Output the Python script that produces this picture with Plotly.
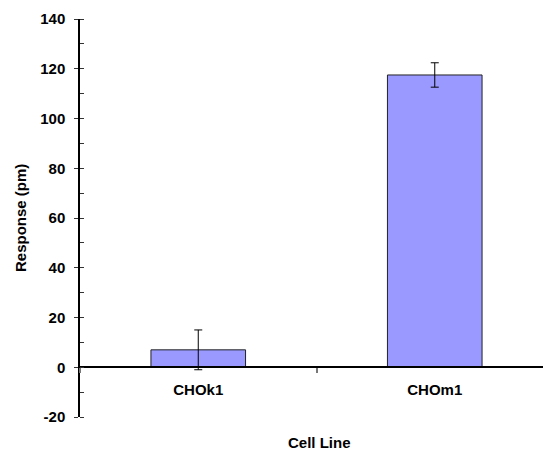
import plotly.graph_objects as go

# Cell line response data
cell_lines = ["CHOk1", "CHOm1"]
response_pm = [7.0, 117.5]
response_err = [8.0, 4.9]

y_ticks = [-20, 0, 20, 40, 60, 80, 100, 120, 140]
y_tick_text = ["-20", "0", "20", "40", "60", "80", "100", "120", "140"]

FONT = dict(family="Liberation Sans, Arial, sans-serif", size=15, color="black", weight="bold")

fig = go.Figure()
fig.add_trace(go.Bar(
    x=cell_lines,
    y=response_pm,
    width=0.4,
    marker=dict(color="#9999FF", line=dict(color="#222222", width=1)),
    error_y=dict(type="data", array=response_err, visible=True,
                 color="black", thickness=1, width=4),
    showlegend=False,
))

# Inside half of the crossing major ticks on the value axis
fig.add_trace(go.Scatter(x=[None], y=[None], yaxis="y2", showlegend=False))

fig.update_layout(
    width=543, height=451,
    margin=dict(l=80, r=0, t=19, b=34),
    plot_bgcolor="white", paper_bgcolor="white",
    font=FONT,
    xaxis=dict(
        type="category",
        range=[-0.5, 1.4577],
        anchor="free", position=0.125,
        showline=True, linecolor="black", linewidth=1.5,
        ticks="outside", tickson="boundaries", ticklen=5, tickcolor="#777777", tickwidth=2,
        ticklabelstandoff=9,
        showgrid=False, zeroline=False,
        tickfont=FONT,
    ),
    yaxis=dict(
        range=[-20, 140],
        tickvals=y_ticks, ticktext=y_tick_text,
        showline=True, linecolor="black", linewidth=1.5,
        ticks="outside", ticklen=4, tickcolor="#333333", tickwidth=1,
        minor=dict(ticks="inside", dtick=10, ticklen=4, tickcolor="#333333", tickwidth=1),
        ticklabelstandoff=6,
        showgrid=False, zeroline=False,
        tickfont=FONT,
    ),
    yaxis2=dict(
        range=[-20, 140], overlaying="y", anchor="x", side="left",
        tickvals=y_ticks, showticklabels=False,
        ticks="inside", ticklen=4, tickcolor="#333333", tickwidth=1,
        showline=False, showgrid=False, zeroline=False,
    ),
    annotations=[
        dict(text="Cell Line", xref="paper", yref="paper", x=(319 - 80) / 463, y=-0.065,
             xanchor="center", yanchor="middle", showarrow=False, font=FONT),
        dict(text="Response (pm)", xref="paper", yref="paper", x=(20 - 80) / 463, y=0.5,
             xanchor="center", yanchor="middle", textangle=-90, showarrow=False, font=FONT),
    ],
)

fig.write_html("out.html")
